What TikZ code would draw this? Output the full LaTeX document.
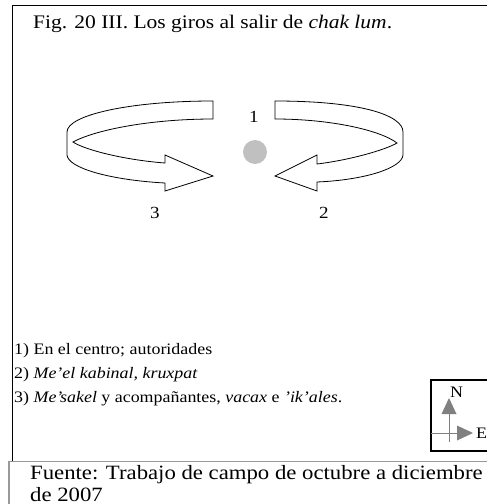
\documentclass[tikz,border=0pt]{standalone}
\usepackage{fontspec}
\setmainfont{Liberation Serif}[FakeStretch=1.12]
\definecolor{dotgray}{HTML}{C0C0C0}
\definecolor{cgray}{HTML}{808080}
\definecolor{fgray}{HTML}{999999}
\begin{document}
\begin{tikzpicture}[x=1pt,y=-1pt,
  frame/.style={draw=black, line width=0.9pt},
  ribbon/.style={draw=black, fill=white, line width=0.8pt, line join=miter},
  txt/.style={inner sep=0pt, anchor=base west},
  titlefont/.style={font=\fontsize{19.2}{23}\selectfont},
  legfont/.style={font=\fontsize{16}{20}\selectfont},
  footfont/.style={font=\fontsize{20.3}{24}\selectfont},
  num/.style={font=\fontsize{17}{20}\selectfont, inner sep=0pt},
  cmp/.style={draw=cgray, line width=1pt},
  cmphead/.style={fill=cgray, draw=none}]
\useasboundingbox (0,0) rectangle (487,504);
\clip (0,0) rectangle (487,504);
% main frame
\draw[frame] (12,461) -- (12,5.5) -- (495,5.5);
% footer frame
\draw[draw=fgray, line width=1.4pt] (9,530) -- (9,461.5) -- (495,461.5);
% title
\node[txt, titlefont] (title) at (33,28) {Fig. 20 III. Los giros al salir de \textit{chak lum}.};
% left ribbon arrow (3)
\draw[ribbon] (213,101) .. controls (130,101) and (67,115) .. (67,132) -- (67,155)
  .. controls (68,168) and (110,180) .. (165,183) -- (165,191) -- (213,176) -- (165,155) -- (165,163)
  .. controls (125,160) and (85,150) .. (73,142)
  .. controls (95,130) and (150,119) .. (213,119) -- cycle;
% right ribbon arrow (2)
\draw[ribbon] (275,101) .. controls (360,101) and (403,115) .. (403,132) -- (403,155)
  .. controls (402,168) and (365,180) .. (317,182) -- (317,191) -- (275,176) -- (317,155) -- (317,164)
  .. controls (350,160) and (385,150) .. (397,143)
  .. controls (380,130) and (330,119) .. (275,119) -- cycle;
% centre dot
\fill[dotgray] (255,152) circle (12);
\node[num] (n1) at (254,117) {1};
\node[num] (n3) at (155,213) {3};
\node[num] (n2) at (324,213) {2};
% legend
\node[txt, legfont] (l1) at (14,354) {1) En el centro; autoridades};
\node[txt, legfont] (l2) at (14,378) {2) \textit{Me'el kabinal, kruxpat}};
\node[txt, legfont] (l3) at (14,402) {3) \textit{Me'sakel} y acompañantes, \textit{vacax} e \textit{'ik'ales}.};
% compass
\draw[line width=1.1pt] (431,380) rectangle (500,451);
\draw[cmp] (449,442) -- (449,412);
\fill[cmphead] (449,398) -- (441.5,414) -- (456.5,414) -- cycle;
\draw[cmp] (431,433) -- (458,433);
\fill[cmphead] (473,433) -- (457,425.5) -- (457,440.5) -- cycle;
\node[num, anchor=base west, font=\fontsize{16}{18}\selectfont] (N) at (450,397) {N};
\node[num, anchor=base west, font=\fontsize{16}{18}\selectfont] (E) at (476,438) {E};
% footer text
\node[txt, footfont] (f1) at (30,479) {Fuente: Trabajo de campo de octubre a diciembre};
\node[txt, footfont] (f2) at (30,501) {de 2007};
\end{tikzpicture}
\end{document}
